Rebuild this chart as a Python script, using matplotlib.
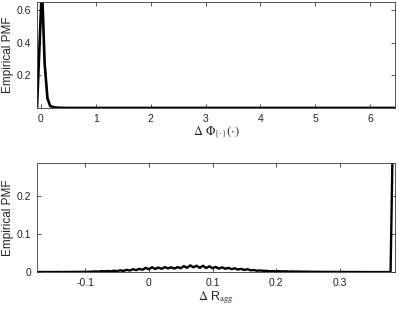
import numpy as np
import matplotlib
matplotlib.use("Agg")
import matplotlib.pyplot as plt

plt.rcParams['font.family'] = ['Liberation Sans', 'DejaVu Sans']
plt.rcParams['mathtext.fontset'] = 'stix'

# Top panel: PMF of delta Phi
phi_x = [-0.07, 0.02, 0.07, 0.12, 0.17, 0.25, 0.35, 0.5, 1.0, 2.0, 3.0, 4.0, 5.0, 6.0, 6.45]
phi_pmf = [0.0, 0.75, 0.27, 0.06, 0.012, 0.003, 0.001, 0.0, 0.0, 0.0, 0.0, 0.0, 0.0, 0.0, 0.0]

# Bottom panel: PMF of delta R_agg (bins of 0.005 from -0.175 to 0.385)
r_start = -0.175
r_step = 0.005
r_pmf = [
    0.0, 0.0, 0.0003, 0.0, 0.0002, 0.0, 0.0003, 0.0002, 0.0, 0.0004,
    0.0003, 0.0005, 0.0004, 0.0006, 0.0005, 0.0008, 0.0006, 0.001, 0.0018, 0.001,
    0.0025, 0.0018, 0.0028, 0.002, 0.0035, 0.0025, 0.0045, 0.003, 0.0058, 0.004,
    0.0075, 0.005, 0.0085, 0.006, 0.011, 0.0075, 0.0125, 0.008, 0.012, 0.0085,
    0.013, 0.0095, 0.0125, 0.009, 0.013, 0.01, 0.0155, 0.011, 0.0175, 0.0125,
    0.0165, 0.011, 0.0165, 0.0105, 0.015, 0.01, 0.0135, 0.009, 0.0125, 0.0085,
    0.011, 0.0075, 0.01, 0.0065, 0.0085, 0.0055, 0.0075, 0.0045, 0.0052, 0.0035,
    0.0042, 0.003, 0.0032, 0.0022, 0.0026, 0.0018, 0.0024, 0.0016, 0.002, 0.0012,
    0.0017, 0.0011, 0.0014, 0.0009, 0.0013, 0.0008, 0.001, 0.0006, 0.0008, 0.0005,
    0.0006, 0.0004, 0.0005, 0.0003, 0.0004, 0.0002, 0.0003, 0.0002, 0.0001, 0.0002,
    0.0001, 0.0001, 0.0, 0.0001, 0.0, 0.0, 0.0, 0.0, 0.0, 0.0,
    0.0, 0.0, 0.5,
]
r_x = [r_start + r_step * i for i in range(len(r_pmf))]

fig = plt.figure(figsize=(3.99, 3.12), dpi=100)

def style(ax):
    for s in ax.spines.values():
        s.set_color('#3a3a3a')
        s.set_linewidth(0.6)
    ax.tick_params(direction='in', top=True, right=True, length=3, width=0.6,
                   color='#3a3a3a', labelcolor='#262626', labelsize=7.5, pad=4)

ax1 = fig.add_axes([0.0927, 0.654, 0.8973, 0.3396])
ax1.plot(phi_x, phi_pmf, color='black', lw=1.9)
ax1.set_xlim(-0.07, 6.45)
ax1.set_ylim(0, 0.65)
ax1.set_xticks([0, 1, 2, 3, 4, 5, 6])
ax1.set_yticks([0.2, 0.4, 0.6])
ax1.set_yticklabels(['0.2', '0.4', '0.6'])
ax1.set_ylabel('Empirical PMF', fontsize=8.5, labelpad=2, color='#262626')
ax1.set_xlabel(r'$\Delta\ \Phi_{\{\cdot\}}(\cdot)$', fontsize=9, labelpad=1, color='#262626')
style(ax1)

ax2 = fig.add_axes([0.0927, 0.128, 0.8973, 0.3496])
ax2.plot(r_x, r_pmf, color='black', lw=1.7)
ax2.set_xlim(-0.176, 0.387)
ax2.set_ylim(0, 0.285)
ax2.set_xticks([-0.1, 0, 0.1, 0.2, 0.3])
ax2.set_xticklabels(['-0.1', '0', '0.1', '0.2', '0.3'])
ax2.set_yticks([0, 0.1, 0.2])
ax2.set_yticklabels(['0', '0.1', '0.2'])
ax2.set_ylabel('Empirical PMF', fontsize=8.5, labelpad=2, color='#262626')
ax2.set_xlabel(r'$\Delta$ R$_{\rm agg}$', fontsize=9, labelpad=1, color='#262626')
style(ax2)

fig.savefig('out.png', dpi=100)
